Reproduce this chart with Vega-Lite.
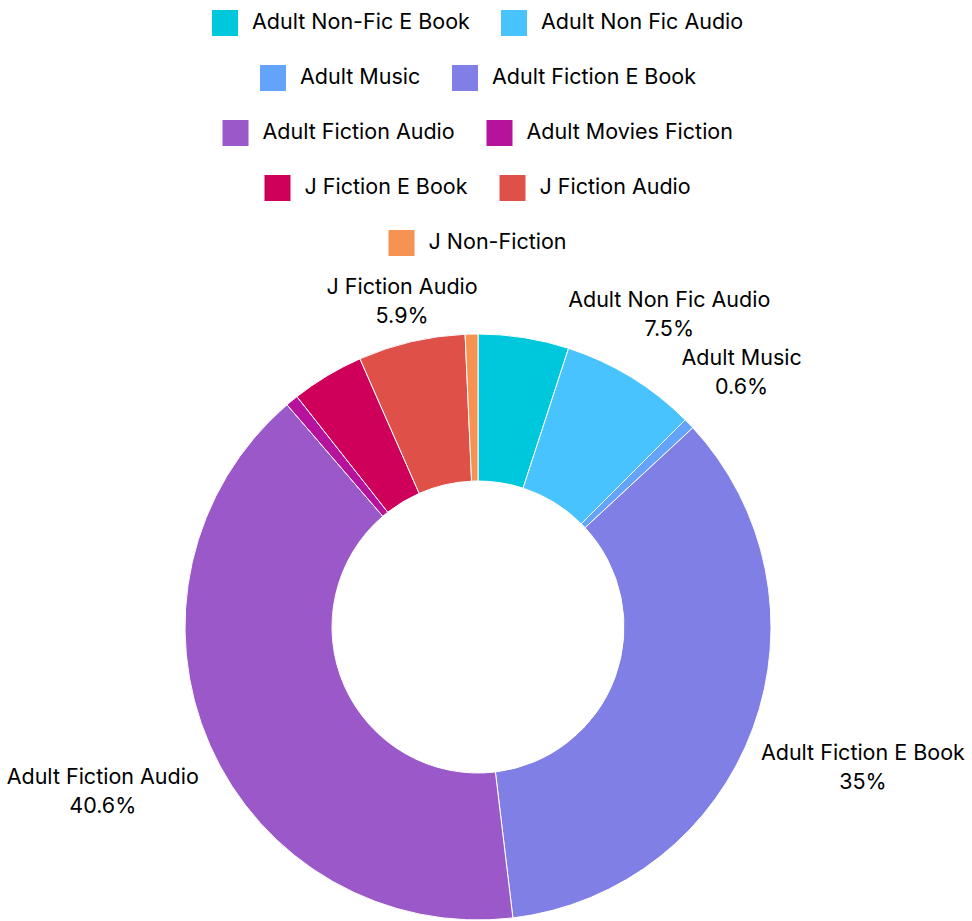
{
  "$schema": "https://vega.github.io/schema/vega-lite/v6.json",
  "width": 956,
  "height": 586,
  "padding": {"left": 0, "top": 10, "right": 0, "bottom": 0},
  "background": "white",
  "data": {
    "values": [
      {"cat": "Adult Non-Fic E Book", "value": 0.05, "order": 1},
      {"cat": "Adult Non Fic Audio", "value": 0.075, "order": 2},
      {"cat": "Adult Music", "value": 0.006, "order": 3},
      {"cat": "Adult Fiction E Book", "value": 0.35, "order": 4},
      {"cat": "Adult Fiction Audio", "value": 0.406, "order": 5},
      {"cat": "Adult Movies Fiction", "value": 0.007, "order": 6},
      {"cat": "J Fiction E Book", "value": 0.04, "order": 7},
      {"cat": "J Fiction Audio", "value": 0.059, "order": 8},
      {"cat": "J Non-Fiction", "value": 0.007, "order": 9}
    ]
  },
  "transform": [
    {"stack": "value", "groupby": [], "sort": [{"field": "order", "order": "ascending"}], "as": ["start", "end"]}
  ],
  "layer": [
    {
      "transform": [{"filter": {"field": "cat", "oneOf": ["Adult Non-Fic E Book", "Adult Non Fic Audio"]}}],
      "mark": {"type": "arc", "outerRadius": 293, "innerRadius": 146, "stroke": "white", "strokeWidth": 1},
      "encoding": {
        "theta": {"field": "start", "type": "quantitative", "scale": {"domain": [0, 1]}},
        "theta2": {"field": "end"},
        "color": {"field": "cat", "type": "nominal", "scale": {"domain": ["Adult Non-Fic E Book", "Adult Non Fic Audio"], "range": ["#00C8DC", "#49C3FD"]}, "legend": {"orient": "top", "title": null, "direction": "horizontal", "offset": 78}}
      }
    },
    {
      "transform": [{"filter": {"field": "cat", "oneOf": ["Adult Music", "Adult Fiction E Book"]}}],
      "mark": {"type": "arc", "outerRadius": 293, "innerRadius": 146, "stroke": "white", "strokeWidth": 1},
      "encoding": {
        "theta": {"field": "start", "type": "quantitative", "scale": {"domain": [0, 1]}},
        "theta2": {"field": "end"},
        "color": {"field": "cat", "type": "nominal", "scale": {"domain": ["Adult Music", "Adult Fiction E Book"], "range": ["#63A3FA", "#7F7FE6"]}, "legend": {"orient": "top", "title": null, "direction": "horizontal", "offset": 78}}
      }
    },
    {
      "transform": [{"filter": {"field": "cat", "oneOf": ["Adult Fiction Audio", "Adult Movies Fiction"]}}],
      "mark": {"type": "arc", "outerRadius": 293, "innerRadius": 146, "stroke": "white", "strokeWidth": 1},
      "encoding": {
        "theta": {"field": "start", "type": "quantitative", "scale": {"domain": [0, 1]}},
        "theta2": {"field": "end"},
        "color": {"field": "cat", "type": "nominal", "scale": {"domain": ["Adult Fiction Audio", "Adult Movies Fiction"], "range": ["#9A58C9", "#B6129C"]}, "legend": {"orient": "top", "title": null, "direction": "horizontal", "offset": 78}}
      }
    },
    {
      "transform": [{"filter": {"field": "cat", "oneOf": ["J Fiction E Book", "J Fiction Audio"]}}],
      "mark": {"type": "arc", "outerRadius": 293, "innerRadius": 146, "stroke": "white", "strokeWidth": 1},
      "encoding": {
        "theta": {"field": "start", "type": "quantitative", "scale": {"domain": [0, 1]}},
        "theta2": {"field": "end"},
        "color": {"field": "cat", "type": "nominal", "scale": {"domain": ["J Fiction E Book", "J Fiction Audio"], "range": ["#CF0059", "#DE5048"]}, "legend": {"orient": "top", "title": null, "direction": "horizontal", "offset": 78}}
      }
    },
    {
      "transform": [{"filter": {"field": "cat", "oneOf": ["J Non-Fiction"]}}],
      "mark": {"type": "arc", "outerRadius": 293, "innerRadius": 146, "stroke": "white", "strokeWidth": 1},
      "encoding": {
        "theta": {"field": "start", "type": "quantitative", "scale": {"domain": [0, 1]}},
        "theta2": {"field": "end"},
        "color": {"field": "cat", "type": "nominal", "scale": {"domain": ["J Non-Fiction"], "range": ["#F79352"]}, "legend": {"orient": "top", "title": null, "direction": "horizontal", "offset": 78}}
      }
    },
    {
      "mark": {"type": "text", "radius": 334, "fontSize": 21.5, "dy": -14, "color": "#000", "align": "center", "baseline": "middle"},
      "encoding": {
        "theta": {"field": "value", "type": "quantitative", "stack": true, "scale": {"domain": [0, 1]}},
        "order": {"field": "order", "type": "quantitative"},
        "detail": {"field": "cat", "type": "nominal"},
        "text": {"condition": {"test": "indexof(['J Fiction Audio'], datum.cat) >= 0", "field": "cat", "type": "nominal"}, "value": ""}
      }
    },
    {
      "mark": {"type": "text", "radius": 334, "fontSize": 21.5, "dy": 15, "color": "#000", "align": "center", "baseline": "middle"},
      "encoding": {
        "theta": {"field": "value", "type": "quantitative", "stack": true, "scale": {"domain": [0, 1]}},
        "order": {"field": "order", "type": "quantitative"},
        "detail": {"field": "cat", "type": "nominal"},
        "text": {"condition": {"test": "indexof(['J Fiction Audio'], datum.cat) >= 0", "field": "value", "type": "quantitative", "format": ".1~%"}, "value": ""}
      }
    },
    {
      "mark": {"type": "text", "radius": 366, "fontSize": 21.5, "dy": -14, "color": "#000", "align": "center", "baseline": "middle"},
      "encoding": {
        "theta": {"field": "value", "type": "quantitative", "stack": true, "scale": {"domain": [0, 1]}},
        "order": {"field": "order", "type": "quantitative"},
        "detail": {"field": "cat", "type": "nominal"},
        "text": {"condition": {"test": "indexof(['Adult Non Fic Audio', 'Adult Music'], datum.cat) >= 0", "field": "cat", "type": "nominal"}, "value": ""}
      }
    },
    {
      "mark": {"type": "text", "radius": 366, "fontSize": 21.5, "dy": 15, "color": "#000", "align": "center", "baseline": "middle"},
      "encoding": {
        "theta": {"field": "value", "type": "quantitative", "stack": true, "scale": {"domain": [0, 1]}},
        "order": {"field": "order", "type": "quantitative"},
        "detail": {"field": "cat", "type": "nominal"},
        "text": {"condition": {"test": "indexof(['Adult Non Fic Audio', 'Adult Music'], datum.cat) >= 0", "field": "value", "type": "quantitative", "format": ".1~%"}, "value": ""}
      }
    },
    {
      "mark": {"type": "text", "radius": 410, "fontSize": 21.5, "dy": -14, "color": "#000", "align": "center", "baseline": "middle"},
      "encoding": {
        "theta": {"field": "value", "type": "quantitative", "stack": true, "scale": {"domain": [0, 1]}},
        "order": {"field": "order", "type": "quantitative"},
        "detail": {"field": "cat", "type": "nominal"},
        "text": {"condition": {"test": "indexof(['Adult Fiction E Book', 'Adult Fiction Audio'], datum.cat) >= 0", "field": "cat", "type": "nominal"}, "value": ""}
      }
    },
    {
      "mark": {"type": "text", "radius": 410, "fontSize": 21.5, "dy": 15, "color": "#000", "align": "center", "baseline": "middle"},
      "encoding": {
        "theta": {"field": "value", "type": "quantitative", "stack": true, "scale": {"domain": [0, 1]}},
        "order": {"field": "order", "type": "quantitative"},
        "detail": {"field": "cat", "type": "nominal"},
        "text": {"condition": {"test": "indexof(['Adult Fiction E Book', 'Adult Fiction Audio'], datum.cat) >= 0", "field": "value", "type": "quantitative", "format": ".1~%"}, "value": ""}
      }
    }
  ],
  "resolve": {"scale": {"color": "independent"}, "legend": {"color": "independent"}},
  "config": {
    "view": {"stroke": null},
    "font": "Inter",
    "text": {"font": "Inter"},
    "legend": {
      "layout": {"top": {"anchor": "middle", "direction": "vertical", "margin": 29, "center": true, "offset": 78}},
      "symbolType": "square",
      "symbolSize": 676,
      "symbolStrokeWidth": 0,
      "symbolOpacity": 1,
      "labelFont": "Inter",
      "labelFontSize": 21.5,
      "labelColor": "#000",
      "labelOffset": 14,
      "columnPadding": 31,
      "labelLimit": 400,
      "padding": 0
    }
  }
}
